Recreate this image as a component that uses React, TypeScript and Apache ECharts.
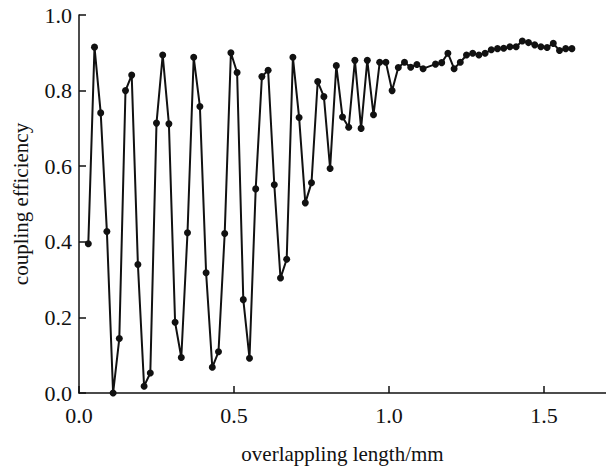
import React, { useEffect, useRef } from "react";
import * as echarts from "echarts";

const xValues = [
  0.03, 0.05, 0.07, 0.09, 0.11, 0.13, 0.15, 0.17, 0.19, 0.21, 0.23, 0.25, 0.27, 0.29, 0.31, 0.33, 0.35, 0.37, 0.39, 0.41,
  0.43, 0.45, 0.47, 0.49, 0.51, 0.53, 0.55, 0.57, 0.59, 0.61, 0.63, 0.65, 0.67, 0.69, 0.71, 0.73, 0.75, 0.77, 0.79, 0.81,
  0.83, 0.85, 0.87, 0.89, 0.91, 0.93, 0.95, 0.97, 0.99, 1.01, 1.03, 1.05, 1.07, 1.09, 1.11, 1.15, 1.17, 1.19, 1.21, 1.23,
  1.25, 1.27, 1.29, 1.31, 1.33, 1.35, 1.37, 1.39, 1.41, 1.43, 1.45, 1.47, 1.49, 1.51, 1.53, 1.55, 1.57, 1.59,
];

const efficiency = [
  0.395, 0.915, 0.741, 0.427, 0.0, 0.144, 0.8, 0.841, 0.34, 0.018, 0.053, 0.714, 0.894, 0.712, 0.187, 0.094, 0.424, 0.888,
  0.758, 0.318, 0.068, 0.109, 0.422, 0.9, 0.848, 0.247, 0.092, 0.54, 0.837, 0.854, 0.551, 0.304, 0.354, 0.888, 0.729,
  0.503, 0.556, 0.824, 0.784, 0.594, 0.866, 0.73, 0.703, 0.88, 0.7, 0.88, 0.736, 0.875, 0.875, 0.8, 0.861, 0.875, 0.862,
  0.869, 0.858, 0.87, 0.874, 0.899, 0.858, 0.875, 0.894, 0.899, 0.894, 0.899, 0.908, 0.911, 0.912, 0.916, 0.916, 0.931,
  0.927, 0.921, 0.916, 0.914, 0.925, 0.906, 0.911, 0.911,
];

const xTitle = "overlappling length/mm";
const yTitle = "coupling efficiency";

export default function App() {
  const ref = useRef<HTMLDivElement>(null);
  useEffect(() => {
    if (!ref.current) return;
    const chart = echarts.init(ref.current, undefined, { renderer: "svg" });
    const font = "Liberation Serif, Times New Roman, serif";
    chart.setOption({
      animation: false,
      backgroundColor: "#ffffff",
      grid: { left: 79, top: 15, right: -3, bottom: 75, containLabel: false },
      xAxis: {
        type: "value",
        min: 0,
        max: 1.7,
        interval: 0.5,
        name: xTitle,
        nameLocation: "middle",
        nameGap: 50,
        nameTextStyle: { fontFamily: font, fontSize: 21, color: "#111" },
        axisLine: { show: true, onZero: false, lineStyle: { color: "#111", width: 1.5 } },
        axisTick: { show: true, inside: true, length: 7, lineStyle: { color: "#111", width: 1.5 } },
        axisLabel: {
          fontFamily: font,
          fontSize: 22,
          color: "#111",
          margin: 11,
          showMaxLabel: false,
          formatter: (v: number) => v.toFixed(1),
        },
        splitLine: { show: false },
      },
      yAxis: {
        type: "value",
        min: 0,
        max: 1,
        interval: 0.2,
        name: yTitle,
        nameLocation: "middle",
        nameGap: 48,
        nameTextStyle: { fontFamily: font, fontSize: 21, color: "#111" },
        axisLine: { show: true, lineStyle: { color: "#111", width: 1.5 } },
        axisTick: { show: true, inside: true, length: 7, lineStyle: { color: "#111", width: 1.5 } },
        axisLabel: {
          fontFamily: font,
          fontSize: 22,
          color: "#111",
          margin: 7,
          formatter: (v: number) => v.toFixed(1),
        },
        splitLine: { show: false },
      },
      series: [
        {
          type: "line",
          data: xValues.map((x, i) => [x, efficiency[i]]),
          symbol: "circle",
          symbolSize: 7,
          showSymbol: true,
          itemStyle: { color: "#111" },
          lineStyle: { color: "#111", width: 2 },
          clip: false,
        },
      ],
    });
    return () => chart.dispose();
  }, []);
  return <div ref={ref} style={{ position: "fixed", left: 0, top: 0, width: 606, height: 469, background: "#fff" }} />;
}
